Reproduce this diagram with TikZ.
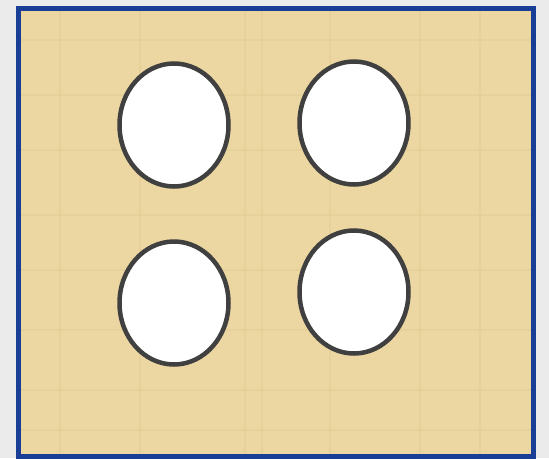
\documentclass[tikz,border=0pt]{standalone}
\usetikzlibrary{shapes.geometric}
\definecolor{pagegray}{RGB}{235,235,235}
\definecolor{papyrus}{RGB}{236,215,162}
\definecolor{papyrusdark}{RGB}{222,196,140}
\definecolor{frameblue}{RGB}{24,62,150}
\definecolor{holegray}{RGB}{64,64,64}
\begin{document}
\begin{tikzpicture}[
    x=1pt, y=-1pt,
    hole/.style={ellipse, draw=holegray, line width=4.5pt, fill=white,
        minimum width=109pt, minimum height=123pt, inner sep=0pt},
    board/.style={draw=frameblue, line width=5pt, fill=papyrus}
    ]
    \useasboundingbox[fill=pagegray] (0,0) rectangle (549,458);
    \draw[board] (18.5,8) rectangle (533.5,456.5);
    % faint fibres of the papyrus
    \foreach \fx in {60,140,245,262,330,420,480}
        \draw[papyrusdark, line width=2pt, opacity=0.35] (\fx,11) -- (\fx,454);
    \foreach \fy in {40,95,150,215,270,330,390,430}
        \draw[papyrusdark, line width=1.5pt, opacity=0.3] (21,\fy) -- (531,\fy);
    \node[hole] (topleft) at (174,125) {};
    \node[hole] (topright) at (354,123) {};
    \node[hole] (bottomleft) at (174,303) {};
    \node[hole] (bottomright) at (354,292) {};
\end{tikzpicture}
\end{document}
